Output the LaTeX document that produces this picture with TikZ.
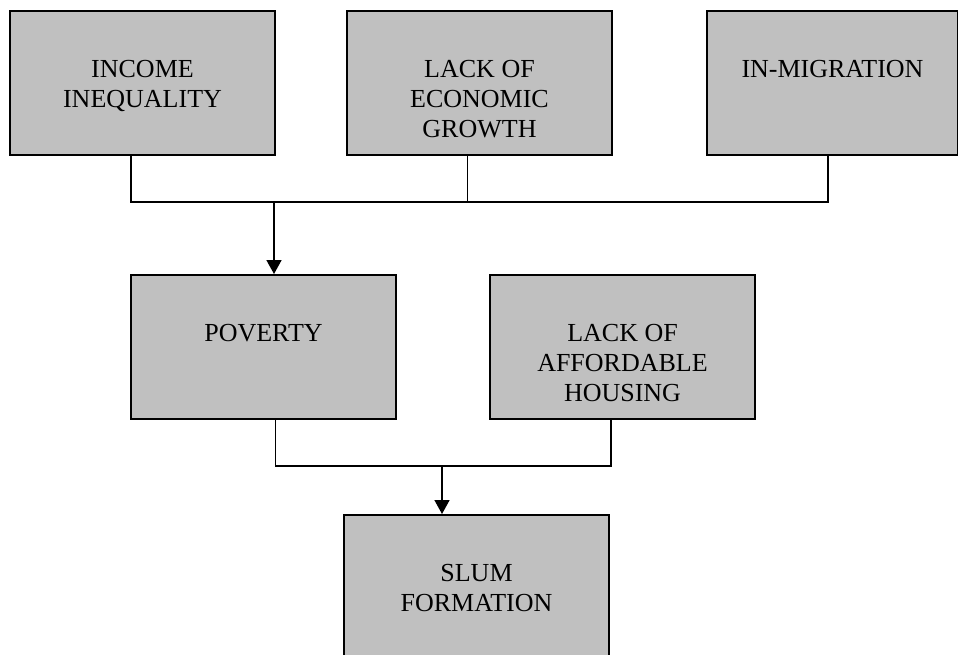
\documentclass[tikz,border=0pt]{standalone}
\usepackage{fontspec}
\setmainfont{Liberation Serif}
\usepackage{xcolor}
\usepackage{tikz}
\usetikzlibrary{positioning,arrows.meta}

\definecolor{boxgray}{RGB}{192,192,192}
% text sits at the top of each box, not in the middle
\newcommand{\boxtext}[2][265pt]{\parbox[c][144pt][t]{#1}{\centering\vspace*{49pt}#2}}

\begin{document}
\begin{tikzpicture}[x=1pt, y=-1pt,
    factor/.style={draw, line width=2pt, fill=boxgray, inner sep=0pt, anchor=north west,
        font=\fontsize{26pt}{30pt}\selectfont},
    link/.style={line width=1.6pt},
    flow/.style={link, -{Triangle[width=15pt,length=14pt]}}]
    \useasboundingbox[fill=white] (0,0) rectangle (958,654);
    \clip (0,0) rectangle (958,654);

    % causes
    \node[factor] (income) at (9,10) {\boxtext{INCOME\\INEQUALITY}};
    \node[factor] (economic) at (346,10) {\boxtext{LACK OF\\ECONOMIC\\GROWTH}};
    \node[factor] (migration) at (706,10) {\boxtext[251pt]{IN-MIGRATION}};
    \node[factor] (poverty) at (130,274) {\boxtext{POVERTY}};
    \node[factor] (housing) at (489,274) {\boxtext{LACK OF\\AFFORDABLE\\HOUSING}};
    \node[factor] (slum) at (343,514) {\boxtext{SLUM\\FORMATION}};

    % junctions
    \coordinate (hubtop) at (274,202);
    \coordinate (hubbottom) at (442,466);

    \draw[link] ([xshift=-11.5pt]income.south) |- (hubtop) -| ([xshift=-4.5pt]migration.south);
    \draw[link] ([xshift=-12pt]economic.south) -- ([xshift=-12pt]economic.south |- hubtop);
    \draw[flow] (hubtop) -- (hubtop |- poverty.north);

    \draw[link] ([xshift=12pt]poverty.south) |- (hubbottom) -| ([xshift=-11.5pt]housing.south);
    \draw[flow] (hubbottom) -- (hubbottom |- slum.north);
\end{tikzpicture}
\end{document}
